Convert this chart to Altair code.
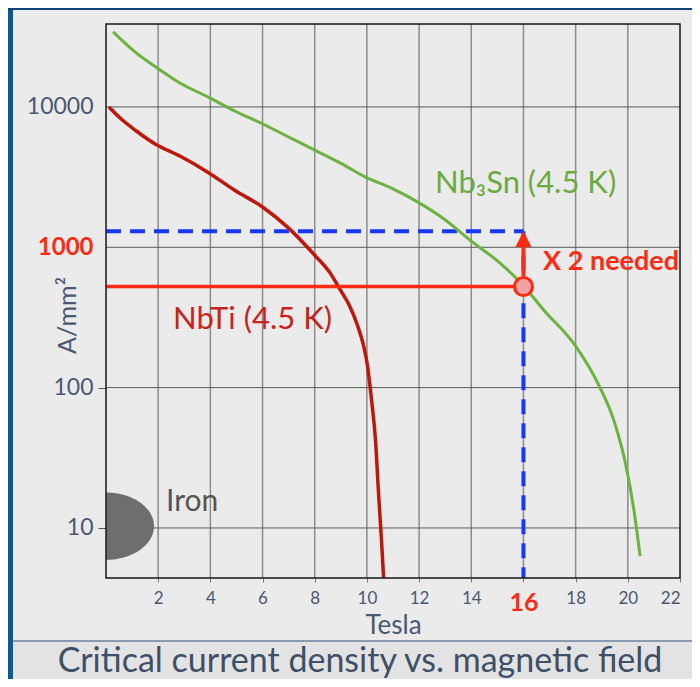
import altair as alt
import pandas as pd

# ---------------- data ----------------
nbti_T = [0.11, 0.54, 1.11, 1.95, 2.83, 3.90, 4.93, 6.01, 7.0, 8.0, 8.57, 8.99,
          9.33, 9.64, 9.87, 10.02, 10.18, 10.33, 10.44, 10.56, 10.64]
nbti_J = [10000, 8340, 6850, 5350, 4470, 3430, 2550, 1930, 1370, 877, 663, 493,
          385, 277, 200, 144, 81, 42, 18.4, 8.1, 4.4]

nb3sn_T = [0.27, 1.11, 1.95, 2.83, 3.90, 4.93, 6.01, 7.0, 8.0, 8.99, 9.95, 10.94,
           11.97, 12.97, 13.96, 15.07, 15.99, 16.79, 17.98, 18.9, 19.47, 19.93, 20.24, 20.47]
nb3sn_J = [34300, 24700, 19000, 14800, 11800, 9360, 7560, 6110, 4930, 3980, 3160, 2640,
           2090, 1585, 1120, 781, 535, 355, 200, 103, 58, 27.7, 13.2, 6.3]

x_ticks = [2, 4, 6, 8, 10, 12, 14, 16, 18, 20, 22]
x_grid = [2, 4, 6, 8, 10, 12, 14, 16, 18, 20]
y_ticks = [10, 100, 1000, 10000]

target_field = 16          # Tesla
nbti_now = 525             # A/mm2 at 16 T (red line / circle)
needed = 1300              # A/mm2 (blue dashed)
arrow_from = 624
arrow_to = 1038
arrow_tip = 1146
iron_T = [0]
iron_J = [10.3]

labels_nb3sn = [{"T": 12.61, "J": 2825, "txt": "Nb\u2083Sn (4.5 K)"}]
labels_nbti = [{"T": 2.57, "J": 303, "txt": "NbTi (4.5 K)"}]
labels_need = [{"T": 16.75, "J": 785, "txt": "X 2 needed"}]
labels_iron = [{"T": 2.3, "J": 15.3, "txt": "Iron"}]
title_text = "Critical current density vs. magnetic field"

X_DOMAIN = [0, 22]
Y_DOMAIN = [4.4, 39000]

# ---------------- styling ----------------
FONT = "Lato"
SLATE = "#4a5872"
GREEN = "#6cb33f"
DARKRED = "#c0170d"
RED = "#ff2a12"
BLUE = "#1438ff"
W, H = 574, 554

xs = alt.Scale(domain=X_DOMAIN, nice=False, zero=False)
ys = alt.Scale(type="log", domain=Y_DOMAIN, nice=False)

xaxis = alt.Axis(
    values=x_ticks, title="Tesla", grid=False, domain=False,
    ticks=True, tickSize=4, tickColor="#777",
    labelFont=FONT, labelPadding=8,
    labelFontSize=alt.condition("datum.value == 16", alt.value(25), alt.value(17)),
    labelFontWeight=alt.condition("datum.value == 16", alt.value("bold"), alt.value("normal")),
    labelColor=alt.condition("datum.value == 16", alt.value(RED), alt.value(SLATE)),
    titleFont=FONT, titleFontSize=26, titleFontWeight="normal", titleColor=SLATE,
    titleY=47, titleBaseline="middle",
)
yaxis = alt.Axis(
    values=y_ticks, format="d", title="A/mm\u00b2", grid=False, domain=False,
    ticks=True, tickSize=8,
    tickColor=alt.condition("datum.value <= 100", alt.value("#555"), alt.value("transparent")),
    labelFont=FONT, labelPadding=5,
    labelFontSize=alt.condition("datum.value == 1000", alt.value(24), alt.value(23)),
    labelFontWeight=alt.condition("datum.value == 1000", alt.value("bold"), alt.value("normal")),
    labelColor=alt.condition("datum.value == 1000", alt.value(RED), alt.value(SLATE)),
    titleFont=FONT, titleFontSize=25, titleFontWeight="normal", titleColor=SLATE,
    titleX=-39, titleY=291, titleAngle=270, titleAlign="center", titleBaseline="middle",
)


def X(f):
    return alt.X(f, type="quantitative", scale=xs, axis=xaxis)


def Y(f):
    return alt.Y(f, type="quantitative", scale=ys, axis=yaxis)


one = alt.Data(values=[{}])

# decorative slide pieces (outside the axes' label areas)
blue_left = alt.Chart(one).mark_rect(fill="#0b5a96").encode(
    x=alt.value(-98), x2=alt.value(-93), y=alt.value(-16), y2=alt.value(655)
)
blue_top = alt.Chart(one).mark_rect(fill="#0a4478").encode(
    x=alt.value(-98), x2=alt.value(586), y=alt.value(-16), y2=alt.value(-14)
)
strip = alt.Chart(one).mark_rect(fill="#e3e3e3").encode(
    x=alt.value(-93), x2=alt.value(586), y=alt.value(617), y2=alt.value(655)
)
sep = alt.Chart(one).mark_rule(color="#8a9ab0", strokeWidth=2).encode(
    x=alt.value(-93), x2=alt.value(586), y=alt.value(617)
)
title = alt.Chart(one).mark_text(
    font=FONT, fontSize=34, color="#3e5068", align="center", baseline="middle"
).encode(x=alt.value(254), y=alt.value(638), text=alt.value(title_text))

xgrid = alt.Chart(pd.DataFrame({"T": x_grid})).mark_rule(color="#8c8c8c", strokeWidth=1.5).encode(
    x=X("T")
)
ygrid = alt.Chart(pd.DataFrame({"J": y_ticks})).mark_rule(color="#5a5a5a", strokeWidth=1).encode(
    y=Y("J")
)

iron = alt.Chart(pd.DataFrame({"T": iron_T, "J": iron_J})).mark_point(
    shape="M0,-0.7 A1,0.7 0 0,1 0,0.7 Z", filled=True, fill="#6e6e6e",
    opacity=1, strokeWidth=0, size=9216
).encode(x=X("T"), y=Y("J"))

blue_h = alt.Chart(pd.DataFrame({"T": [0], "T1": [target_field], "J": [needed]})).mark_rule(
    color=BLUE, strokeWidth=4, strokeDash=[15, 9]
).encode(x=X("T"), x2="T1:Q", y=Y("J"))

blue_v = alt.Chart(pd.DataFrame({"T": [target_field], "J": [needed], "J1": [Y_DOMAIN[0]]})).mark_rule(
    color=BLUE, strokeWidth=4, strokeDash=[15, 9]
).encode(x=X("T"), y=Y("J"), y2="J1:Q")

green = alt.Chart(pd.DataFrame({"T": nb3sn_T, "J": nb3sn_J})).mark_line(
    color=GREEN, strokeWidth=3, interpolate="monotone"
).encode(x=X("T"), y=Y("J"))

red = alt.Chart(pd.DataFrame({"T": nbti_T, "J": nbti_J})).mark_line(
    color=DARKRED, strokeWidth=3.5, interpolate="monotone"
).encode(x=X("T"), y=Y("J"))

red_h = alt.Chart(pd.DataFrame({"T": [0], "T1": [target_field], "J": [nbti_now]})).mark_rule(
    color=RED, strokeWidth=3.5
).encode(x=X("T"), x2="T1:Q", y=Y("J"))

shaft = alt.Chart(pd.DataFrame({"T": [target_field], "J": [arrow_from], "J1": [arrow_to]})).mark_rule(
    color=RED, strokeWidth=4
).encode(x=X("T"), y=Y("J"), y2="J1:Q")

head = alt.Chart(pd.DataFrame({"T": [target_field], "J": [arrow_tip]})).mark_point(
    shape="M0,-1L1,1L-1,1Z", filled=True, fill=RED, opacity=1, strokeWidth=0, size=256
).encode(x=X("T"), y=Y("J"))

circle = alt.Chart(pd.DataFrame({"T": [target_field], "J": [nbti_now]})).mark_point(
    shape="circle", filled=True, fill="#f4a3a3", stroke=RED, strokeWidth=3, opacity=1, size=327
).encode(x=X("T"), y=Y("J"))


def label(rows, color, size, weight="normal"):
    return alt.Chart(pd.DataFrame(rows)).mark_text(
        align="left", baseline="middle", font=FONT, fontSize=size, fontWeight=weight, color=color
    ).encode(x=X("T"), y=Y("J"), text="txt:N")


t_nb3sn = label(labels_nb3sn, "#6aab3f", 31)
t_nbti = label(labels_nbti, "#c8231a", 31)
t_need = label(labels_need, RED, 27, "bold")
t_iron = label(labels_iron, "#555555", 30)

frame = alt.Chart(one).mark_rect(fill="transparent", stroke="#1a1a1a", strokeWidth=1.5).encode(
    x=alt.value(0), x2=alt.value(W), y=alt.value(0), y2=alt.value(H)
)

chart = alt.layer(
    blue_left, blue_top, strip, sep, title, xgrid, ygrid, iron, blue_h, blue_v, green, red, red_h,
    shaft, head, circle, t_nb3sn, t_nbti, t_need, t_iron, frame
).properties(
    width=W, height=H,
    autosize=alt.AutoSizeParams(type="none"),
    padding={"left": 98, "top": 16, "right": 12, "bottom": 101},
    background="#ebebeb",
).configure_view(strokeWidth=0).configure(font=FONT)

chart.save("out.html", embed_options={"renderer": "svg", "actions": False})
